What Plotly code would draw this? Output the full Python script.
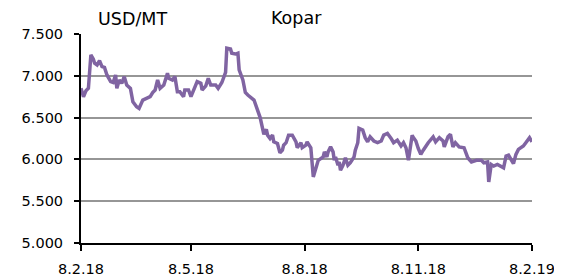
import plotly.graph_objects as go

dates = [
    "2018-02-08", "2018-02-10", "2018-02-12", "2018-02-14", "2018-02-16", "2018-02-18",
    "2018-02-19", "2018-02-21", "2018-02-23", "2018-02-25", "2018-02-27", "2018-03-01",
    "2018-03-04", "2018-03-06", "2018-03-08", "2018-03-09", "2018-03-11", "2018-03-13",
    "2018-03-15", "2018-03-17", "2018-03-20", "2018-03-22", "2018-03-25", "2018-03-27",
    "2018-03-30", "2018-04-01", "2018-04-03", "2018-04-05", "2018-04-07", "2018-04-09",
    "2018-04-11", "2018-04-12", "2018-04-13", "2018-04-16", "2018-04-19", "2018-04-20",
    "2018-04-23", "2018-04-25", "2018-04-27", "2018-04-29", "2018-05-02", "2018-05-03",
    "2018-05-06", "2018-05-08", "2018-05-10", "2018-05-13", "2018-05-16", "2018-05-17",
    "2018-05-20", "2018-05-22", "2018-05-24", "2018-05-28", "2018-05-30", "2018-06-02",
    "2018-06-05", "2018-06-06", "2018-06-09", "2018-06-10", "2018-06-13", "2018-06-15",
    "2018-06-16", "2018-06-19", "2018-06-21", "2018-06-23", "2018-06-28", "2018-07-01",
    "2018-07-03", "2018-07-06", "2018-07-08", "2018-07-09", "2018-07-11", "2018-07-13",
    "2018-07-14", "2018-07-17", "2018-07-19", "2018-07-21", "2018-07-22", "2018-07-24",
    "2018-07-26", "2018-07-29", "2018-08-01", "2018-08-02", "2018-08-05", "2018-08-06",
    "2018-08-09", "2018-08-10", "2018-08-13", "2018-08-15", "2018-08-17", "2018-08-19",
    "2018-08-23", "2018-08-24", "2018-08-26", "2018-08-27", "2018-08-29", "2018-08-31",
    "2018-09-01", "2018-09-02", "2018-09-04", "2018-09-05", "2018-09-06", "2018-09-08",
    "2018-09-10", "2018-09-12", "2018-09-14", "2018-09-17", "2018-09-18", "2018-09-20",
    "2018-09-21", "2018-09-24", "2018-09-26", "2018-09-28", "2018-09-30", "2018-10-03",
    "2018-10-06", "2018-10-09", "2018-10-11", "2018-10-14", "2018-10-17", "2018-10-19",
    "2018-10-22", "2018-10-25", "2018-10-27", "2018-10-29", "2018-10-31", "2018-11-03",
    "2018-11-04", "2018-11-06", "2018-11-08", "2018-11-10", "2018-11-12", "2018-11-14",
    "2018-11-16", "2018-11-20", "2018-11-22", "2018-11-25", "2018-11-28", "2018-11-29",
    "2018-12-02", "2018-12-04", "2018-12-06", "2018-12-08", "2018-12-11", "2018-12-15",
    "2018-12-18", "2018-12-21", "2018-12-25", "2018-12-29", "2018-12-31", "2019-01-03",
    "2019-01-04", "2019-01-06", "2019-01-08", "2019-01-11", "2019-01-16", "2019-01-18",
    "2019-01-20", "2019-01-24", "2019-01-26", "2019-01-28", "2019-02-01", "2019-02-03",
    "2019-02-06", "2019-02-08",
]

prices = [
    6850, 6750, 6820, 6850, 7250, 7200,
    7150, 7130, 7180, 7110, 7100, 7010,
    6930, 6920, 7010, 6850, 6950, 6910,
    6990, 6890, 6850, 6690, 6630, 6610,
    6710, 6720, 6730, 6750, 6800, 6830,
    6950, 6880, 6850, 6890, 7030, 6970,
    6950, 6990, 6810, 6810, 6750, 6830,
    6830, 6750, 6830, 6930, 6910, 6830,
    6880, 6970, 6890, 6890, 6850, 6920,
    7040, 7330, 7320, 7270, 7260, 7270,
    7070, 6950, 6800, 6770, 6710, 6590,
    6500, 6300, 6360, 6290, 6250, 6290,
    6210, 6190, 6080, 6110, 6170, 6200,
    6290, 6290, 6210, 6140, 6200, 6140,
    6170, 6210, 6140, 5790, 5900, 5990,
    6030, 6090, 6030, 6090, 6150, 6090,
    5990, 6030, 5930, 5970, 5870, 5930,
    6020, 5930, 5960, 6030, 6110, 6200,
    6370, 6350, 6260, 6210, 6270, 6220,
    6200, 6220, 6290, 6310, 6250, 6200,
    6230, 6160, 6200, 6140, 5990, 6290,
    6260, 6220, 6130, 6060, 6110, 6160,
    6200, 6270, 6210, 6260, 6220, 6150,
    6270, 6300, 6150, 6200, 6150, 6140,
    6020, 5970, 5990, 5990, 5960, 5970,
    5730, 5940, 5920, 5940, 5900, 6040,
    6050, 5950, 6060, 6120, 6160, 6200,
    6260, 6210,
]

tick_dates = ["2018-02-08", "2018-05-08", "2018-08-08", "2018-11-08", "2019-02-08"]
tick_labels = ["8.2.18", "8.5.18", "8.8.18", "8.11.18", "8.2.19"]
y_ticks = [5000, 5500, 6000, 6500, 7000, 7500]

unit_label = "USD/MT"
chart_title = "Kopar"

FONT = "DejaVu Sans"

fig = go.Figure()
fig.add_trace(go.Scatter(
    x=dates, y=prices, mode="lines",
    line=dict(color="#8064A2", width=3.5),
    showlegend=False, hoverinfo="skip",
))

fig.update_layout(
    width=562, height=280,
    margin=dict(l=73, r=38, t=26, b=45),
    paper_bgcolor="white", plot_bgcolor="white",
    separators=",.",
    font=dict(family=FONT, size=14.5, color="#000000"),
    xaxis=dict(
        type="date",
        range=["2018-02-08", "2019-02-08"],
        tickvals=tick_dates, ticktext=tick_labels,
        showgrid=False, zeroline=False,
        showline=True, linecolor="#000000", linewidth=2,
        ticks="outside", ticklen=6, tickwidth=2, tickcolor="#000000",
        ticklabelstandoff=6,
        tickfont=dict(family=FONT, size=14.5, color="#000000"),
    ),
    yaxis=dict(
        range=[5000, 7500],
        tickvals=y_ticks, tickformat=",d",
        showgrid=True, gridcolor="#969696", gridwidth=1.5,
        zeroline=False,
        showline=True, linecolor="#000000", linewidth=2,
        ticks="outside", ticklen=5, tickwidth=2, tickcolor="#000000",
        ticklabelstandoff=8,
        tickfont=dict(family=FONT, size=14.5, color="#000000"),
    ),
    annotations=[
        dict(text=unit_label, xref="paper", yref="paper", x=0.115, y=1.07,
             xanchor="center", yanchor="middle", showarrow=False,
             font=dict(family=FONT, size=17.5, color="#000000")),
        dict(text=chart_title, xref="paper", yref="paper", x=0.478, y=1.075,
             xanchor="center", yanchor="middle", showarrow=False,
             font=dict(family=FONT, size=17.5, color="#000000")),
    ],
)

fig.write_html("out.html")
